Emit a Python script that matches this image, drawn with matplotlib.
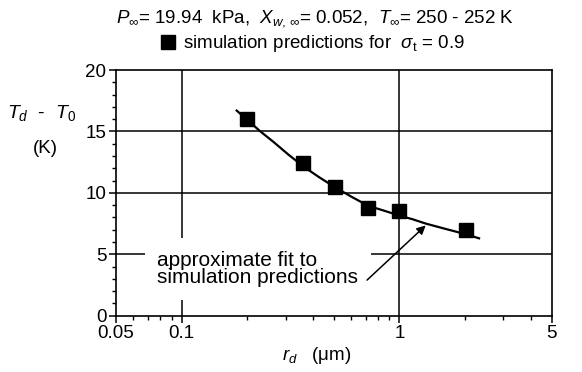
import matplotlib
matplotlib.use("Agg")
import matplotlib.pyplot as plt
from matplotlib.lines import Line2D

plt.rcParams["font.family"] = ["Liberation Sans", "DejaVu Sans"]
plt.rcParams["mathtext.fontset"] = "custom"
plt.rcParams["mathtext.rm"] = "Liberation Sans"
plt.rcParams["mathtext.it"] = "Liberation Sans:italic"
plt.rcParams["mathtext.sf"] = "Liberation Sans"

# simulation predictions: droplet radius (um) vs temperature rise (K)
sim_radius = [0.2, 0.362, 0.507, 0.718, 1.0, 2.01]
sim_dT = [16.0, 12.4, 10.5, 8.8, 8.55, 6.95]

# approximate fit curve through the predictions
fit_radius = [0.179, 0.2, 0.23, 0.264, 0.31, 0.362, 0.43, 0.507, 0.6, 0.718, 0.85, 1.0, 1.15, 1.32, 1.6, 2.0, 2.32]
fit_dT = [16.7, 15.95, 15.0, 14.15, 13.1, 12.15, 11.25, 10.45, 9.7, 8.95, 8.55, 8.15, 7.85, 7.5, 7.1, 6.65, 6.3]

x_ticks = [0.05, 0.1, 1, 5]
x_ticklabels = ["0.05", "0.1", "1", "5"]
y_ticks = [0, 5, 10, 15, 20]

fig = plt.figure(figsize=(5.82, 3.72), dpi=100)
ax = fig.add_axes([0.1993, 0.1513, 0.7487, 0.6605])

ax.set_xscale("log")
ax.set_xlim(0.05, 5)
ax.set_ylim(0, 20)

# grid lines at the major values
for yv in [5, 10, 15]:
    ax.axhline(yv, color="black", lw=1.1, zorder=1)
for xv in [0.1, 1]:
    ax.axvline(xv, color="black", lw=1.1, zorder=1)

ax.plot(fit_radius, fit_dT, color="black", lw=1.6, zorder=3)
ax.plot(sim_radius, sim_dT, "s", color="black", ms=10.5, zorder=4)

ax.text(0.0773, 3.8, "approximate fit to\nsimulation predictions", fontsize=15,
        ha="left", va="center", linespacing=0.88, zorder=5,
        bbox=dict(facecolor="white", edgecolor="none", pad=9))
ax.annotate("", xy=(1.32, 7.35), xytext=(0.71, 2.9), zorder=6,
            arrowprops=dict(arrowstyle="-|>", color="black", lw=1.1,
                            mutation_scale=13, shrinkA=0, shrinkB=0))

ax.set_xticks(x_ticks)
ax.set_xticklabels(x_ticklabels)
ax.set_xticks([0.06, 0.07, 0.08, 0.09, 0.2, 0.3, 0.4, 0.5, 0.6, 0.7, 0.8, 0.9, 2, 3, 4], minor=True)
ax.xaxis.set_minor_formatter(matplotlib.ticker.NullFormatter())
ax.set_yticks(y_ticks)
ax.set_yticks(range(0, 21), minor=True)
ax.tick_params(which="major", direction="out", length=5, width=1.1, labelsize=13.5, pad=2)
ax.tick_params(which="minor", direction="out", length=3, width=1.0)

for s in ax.spines.values():
    s.set_linewidth(1.2)

# axis labels
fig.text(0.072, 0.695, r"$T_d$  -  $T_{\mathit{0}}$", fontsize=14, ha="center", va="center")
fig.text(0.078, 0.600, "(K)", fontsize=13.5, ha="center", va="center")
fig.text(0.545, 0.045, r"$r_d$   ($\mathrm{\mu}$m)", fontsize=13.5, ha="center", va="center")

# header lines
fig.text(0.542, 0.951,
         r"$P_{\infty}$= 19.94  kPa,  $X_{w,\,\infty}$= 0.052,  $T_{\infty}$= 250 - 252 K",
         fontsize=13.5, ha="center", va="center")
handle = Line2D([], [], marker="s", color="black", ls="none", ms=10)
fig.legend([handle], [r"simulation predictions for  $\sigma_{\rm t}$ = 0.9"],
           loc="center", bbox_to_anchor=(0.535, 0.882), frameon=False,
           fontsize=13.5, handletextpad=0.3, handlelength=1.0, borderpad=0)

fig.savefig("out.png", dpi=100)
